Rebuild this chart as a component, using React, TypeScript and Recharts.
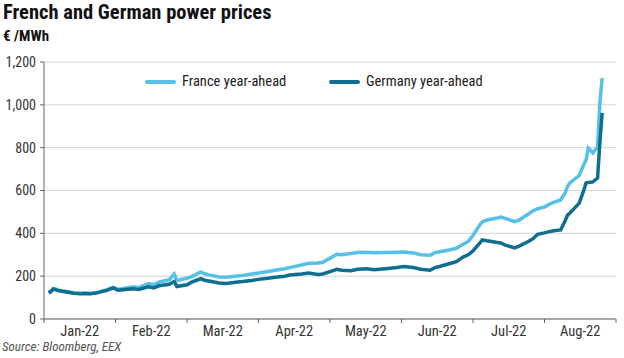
import React from "react";
import { LineChart, Line, XAxis, YAxis, CartesianGrid } from "recharts";

const monthLabels = ["Jan-22", "Feb-22", "Mar-22", "Apr-22", "May-22", "Jun-22", "Jul-22", "Aug-22"];
const yTicks = [0, 200, 400, 600, 800, 1000, 1200];

const dates = [
  "2022-01-03", "2022-01-04", "2022-01-05", "2022-01-06", "2022-01-07", "2022-01-10", "2022-01-12",
  "2022-01-14", "2022-01-17", "2022-01-19", "2022-01-21", "2022-01-24", "2022-01-26", "2022-01-28",
  "2022-01-31", "2022-02-02", "2022-02-04", "2022-02-08", "2022-02-10", "2022-02-14", "2022-02-16",
  "2022-02-18", "2022-02-22", "2022-02-24", "2022-02-25", "2022-03-01", "2022-03-03", "2022-03-07",
  "2022-03-09", "2022-03-11", "2022-03-15", "2022-03-18", "2022-03-22", "2022-03-25", "2022-03-29",
  "2022-04-01", "2022-04-05", "2022-04-08", "2022-04-12", "2022-04-14", "2022-04-19", "2022-04-22",
  "2022-04-26", "2022-04-28", "2022-05-02", "2022-05-04", "2022-05-06", "2022-05-10", "2022-05-13",
  "2022-05-17", "2022-05-20", "2022-05-25", "2022-05-30", "2022-06-02", "2022-06-06", "2022-06-09",
  "2022-06-13", "2022-06-15", "2022-06-17", "2022-06-21", "2022-06-24", "2022-06-27", "2022-06-29",
  "2022-07-01", "2022-07-04", "2022-07-05", "2022-07-07", "2022-07-11", "2022-07-13", "2022-07-15",
  "2022-07-19", "2022-07-21", "2022-07-25", "2022-07-27", "2022-07-29", "2022-08-01", "2022-08-03",
  "2022-08-05", "2022-08-08", "2022-08-10", "2022-08-11", "2022-08-12", "2022-08-16", "2022-08-18",
  "2022-08-19", "2022-08-20", "2022-08-22", "2022-08-23", "2022-08-24", "2022-08-25", "2022-08-26",
];

const france = [
  125, 130, 142, 140, 136, 130, 126,
  122, 120, 121, 119, 124, 130, 136,
  148, 138, 142, 150, 146, 165, 160,
  172, 183, 210, 180, 190, 198, 220,
  210, 205, 196, 195, 200, 203, 210,
  215, 222, 228, 235, 240, 252, 260,
  262, 265, 290, 302, 300, 306, 310,
  312, 309, 310, 312, 313, 308, 300,
  298, 310, 314, 322, 330, 350, 362,
  390, 440, 453, 462, 470, 476, 470,
  455, 462, 490, 505, 515, 523, 535,
  545, 556, 590, 620, 635, 670, 720,
  742, 798, 775, 790, 803, 1008, 1125,
];

const germany = [
  122, 128, 140, 137, 133, 127, 124,
  120, 118, 119, 118, 122, 128, 133,
  145, 134, 137, 141, 138, 150, 145,
  155, 162, 175, 152, 160, 172, 188,
  180, 176, 168, 166, 172, 175, 180,
  185, 190, 195, 200, 205, 210, 215,
  208, 210, 225, 232, 228, 225, 232,
  235, 230, 235, 240, 245, 240, 232,
  228, 240, 245, 258, 268, 290, 300,
  318, 355, 369, 365, 358, 355, 345,
  332, 340, 362, 375, 395, 402, 408,
  412, 416, 460, 485, 495, 540, 600,
  635, 637, 640, 650, 658, 822, 962,
];

const daysIn = [31, 28, 31, 30, 31, 30, 31, 31, 30, 31, 30, 31];

// month index plus fraction of the month, so each month gets equal width
function monthPos(d: string) {
  const [, m, day] = d.split("-").map(Number);
  return m - 1 + (day - 1) / daysIn[m - 1];
}

const data = dates.map((d, i) => ({ t: monthPos(d), france: france[i], germany: germany[i] }));

const FR_COLOR = "#55c1e6";
const DE_COLOR = "#0f6f8f";
const FONT = "'Roboto Condensed', 'DejaVu Sans Condensed', 'Liberation Sans Narrow', Roboto, sans-serif";

const W = 624;
const H = 358;
const MARGIN = { top: 62, right: 8, left: 0, bottom: 19 };
const Y_WIDTH = 44;
const HALF_MONTH = (W - Y_WIDTH - MARGIN.right) / 8 / 2;

function MonthTick(props: any) {
  const { x, y, payload } = props;
  const label = monthLabels[payload.value];
  if (!label) return null;
  return (
    <text x={x + HALF_MONTH} y={y} dy="0.71em" textAnchor="middle" fill="#333" fontSize={14.5} fontFamily={FONT}>
      {label}
    </text>
  );
}

const legendItems = [
  { name: "France year-ahead", color: FR_COLOR, left: 145 },
  { name: "Germany year-ahead", color: DE_COLOR, left: 329 },
];

export default function App() {
  return (
    <div style={{ position: "absolute", left: 0, top: 0, width: W, height: H, background: "#fff", fontFamily: FONT }}>
      <div style={{ position: "absolute", left: 3, top: 0, fontSize: 20.5, fontWeight: 700, color: "#111" }}>
        French and German power prices
      </div>
      <div style={{ position: "absolute", left: 3, top: 27, fontSize: 15, fontWeight: 700, color: "#111" }}>€ /MWh</div>
      <LineChart width={W} height={H} data={data} margin={MARGIN}>
        <CartesianGrid vertical={false} stroke="#d4d4d4" strokeWidth={1} />
        <XAxis
          dataKey="t"
          type="number"
          domain={[0, 8]}
          ticks={[0, 1, 2, 3, 4, 5, 6, 7, 8]}
          tick={<MonthTick />}
          tickSize={4}
          tickMargin={3}
          height={20}
          stroke="#666"
          interval={0}
        />
        <YAxis
          domain={[0, 1200]}
          ticks={yTicks}
          width={Y_WIDTH}
          tickSize={4}
          tickMargin={4}
          stroke="#666"
          tick={{ fill: "#333", fontSize: 14, fontFamily: FONT }}
          tickFormatter={(v) => v.toLocaleString("en-US")}
        />
        <Line type="linear" dataKey="france" stroke={FR_COLOR} strokeWidth={3.5} dot={false} isAnimationActive={false} />
        <Line type="linear" dataKey="germany" stroke={DE_COLOR} strokeWidth={3.5} dot={false} isAnimationActive={false} />
      </LineChart>
      {legendItems.map((it) => (
        <div key={it.name} style={{ position: "absolute", left: it.left, top: 73, display: "flex", alignItems: "center" }}>
          <span style={{ display: "inline-block", width: 31, height: 4, background: it.color, borderRadius: 2, marginRight: 6 }} />
          <span style={{ fontSize: 14.5, color: "#222" }}>{it.name}</span>
        </div>
      ))}
      <div style={{ position: "absolute", left: 2, top: 339, fontSize: 13, fontStyle: "italic", color: "#555" }}>
        Source: Bloomberg, EEX
      </div>
    </div>
  );
}
